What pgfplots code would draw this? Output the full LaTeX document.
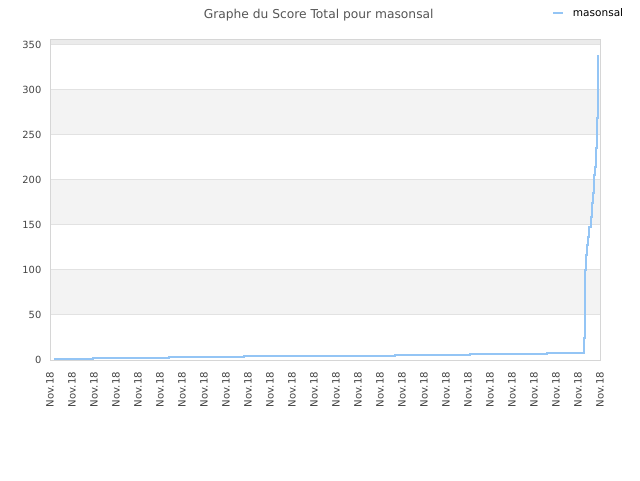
\documentclass[border=0pt]{standalone}
\usepackage{pgfplots}
\pgfplotsset{compat=1.18}
\usepackage{fontspec}
\setmainfont{DejaVu Sans}

\definecolor{lineblue}{HTML}{94C5F5}
\definecolor{bandgray}{HTML}{F3F3F3}
\definecolor{topband}{HTML}{EBEBEB}
\definecolor{gridgray}{HTML}{E2E2E2}
\definecolor{boxgray}{HTML}{D6D6D6}
\definecolor{txtgray}{HTML}{444444}
\definecolor{titlegray}{HTML}{555555}

\begin{document}
\begin{tikzpicture}
  % page = 640x480 px, 1px = 0.75pt
  \node[text=titlegray, font=\fontsize{9.2}{11}\selectfont] at (239pt,348.5pt) {Graphe du Score Total pour masonsal};

  % legend
  \draw[lineblue, line width=1.5pt] (414.75pt,350.25pt) -- (422.25pt,350.25pt);
  \node[anchor=west, inner sep=0pt, text=black, font=\fontsize{7.9}{9}\selectfont] at (429.5pt,350.8pt) {masonsal};

  \begin{axis}[
    set layers,
    at={(37.5pt,90pt)}, anchor=south west,
    scale only axis,
    width=412.5pt, height=240pt,
    xmin=0, xmax=25,
    ymin=0, ymax=355.5,
    xtick={0,1,...,25},
    xticklabels={Nov.18,Nov.18,Nov.18,Nov.18,Nov.18,Nov.18,Nov.18,Nov.18,Nov.18,Nov.18,Nov.18,Nov.18,Nov.18,Nov.18,Nov.18,Nov.18,Nov.18,Nov.18,Nov.18,Nov.18,Nov.18,Nov.18,Nov.18,Nov.18,Nov.18,Nov.18},
    ytick={0,50,...,350},
    tick style={draw=none},
    ymajorgrids,
    grid style={gridgray, line width=0.75pt},
    axis line style={boxgray, line width=0.75pt},
    % after rotate=90 a negative xshift moves the label down
    xticklabel style={rotate=90, anchor=east, text=txtgray, font=\fontsize{7.6}{9}\selectfont, xshift=-5.5pt},
    yticklabel style={text=txtgray, font=\fontsize{7.4}{9}\selectfont, xshift=-3pt},
    /pgf/number format/assume math mode=true,
  ]
    % alternating plot bands
    \addplot[forget plot, draw=none, fill=bandgray, on layer=axis background] coordinates {(0,50) (25,50) (25,100) (0,100)} -- cycle;
    \addplot[forget plot, draw=none, fill=bandgray, on layer=axis background] coordinates {(0,150) (25,150) (25,200) (0,200)} -- cycle;
    \addplot[forget plot, draw=none, fill=bandgray, on layer=axis background] coordinates {(0,250) (25,250) (25,300) (0,300)} -- cycle;
    \addplot[forget plot, draw=none, fill=topband, on layer=axis background] coordinates {(0,350) (25,350) (25,355.5) (0,355.5)} -- cycle;

    \addplot[const plot, lineblue, line width=1.5pt, no markers] coordinates {
      (0.18,1) (1.95,2) (5.40,3) (8.80,4) (12.30,5) (15.70,6) (19.10,7)
      (22.60,8) (24.27,24) (24.30,100) (24.36,117) (24.42,128) (24.47,137)
      (24.51,148) (24.58,159) (24.62,174) (24.67,186) (24.71,206)
      (24.76,214) (24.80,236) (24.85,269) (24.90,339)
    };
  \end{axis}

  % fix page to the reference's 640x480 frame
  \path (0,0) rectangle (480pt,360pt);
\end{tikzpicture}
\end{document}
